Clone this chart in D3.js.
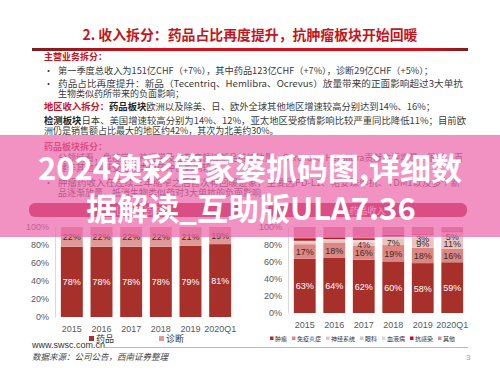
<!DOCTYPE html>
<html>
<head>
<meta charset="utf-8">
<script src="https://cdn.jsdelivr.net/npm/d3@7"></script>
<style>
  html, body { margin: 0; padding: 0; background: #fff; }
  svg { display: block; }
  .cn { font-family: "Noto Sans CJK SC", sans-serif; }
  .axis text { font-family: "Liberation Sans", Arial, sans-serif; font-size: 9px; fill: #595959; }
</style>
</head>
<body>
<svg id="chart" width="500" height="375"></svg>
<script>
// chart data
const years = ['2015', '2016', '2017', '2018', '2019', '2020Q1'];
const pharmaShare = [78, 78, 78, 78, 79, 81];
const diagShare = [22, 22, 22, 22, 21, 19];

const drugAreas = ['肿瘤', '免疫炎症', '神经系统', '眼科', '血液病', '抗感染', '其他'];
const oncology = [63, 64, 62, 60, 58, 59];
const immunology = [17, 18, 16, 19, 18, 16];
const neuroscience = [2, 2, 4, 7, 9, 11];
const ophthalmology = [1, 1, 1, 1, 3, 5];
const hematology = [1, 1, 2, 2, 3, 3];
const infectious = [3, 2, 2, 2, 1, 1];
const others = [13, 12, 13, 9, 8, 5];

const yTicks = [0, 20, 40, 60, 80, 100];

const svg = d3.select('#chart');

// --- slide heading ---
svg.append('text').attr('class', 'cn')
  .attr('x', 250).attr('y', 40).attr('text-anchor', 'middle')
  .attr('font-size', 14).attr('font-weight', 700).attr('fill', '#c3161c')
  .attr('textLength', 335).attr('lengthAdjust', 'spacingAndGlyphs')
  .text('2. 收入拆分：药品占比再度提升，抗肿瘤板块开始回暖');

const grad = svg.append('defs').append('linearGradient').attr('id', 'rule');
[[0, '#7e1d1d'], [0.26, '#d3111a'], [0.9, '#d3111a'], [1, '#7e1d1d']].forEach(s => {
  grad.append('stop').attr('offset', s[0]).attr('stop-color', s[1]);
});
svg.append('rect').attr('x', 32).attr('y', 48).attr('width', 436).attr('height', 3).attr('fill', 'url(#rule)');

// --- body text ---
const body = svg.append('g').attr('class', 'cn').attr('font-size', 9).attr('fill', '#3a3a3a');

function line(x, y, parts, width) {
  const t = body.append('text').attr('x', x).attr('y', y);
  if (width) t.attr('textLength', width).attr('lengthAdjust', 'spacingAndGlyphs');
  parts.forEach(p => {
    t.append('tspan').attr('fill', p.c || null).attr('font-weight', p.b ? 700 : null).text(p.t);
  });
}
function bullet(y) {
  body.append('text').attr('x', 44).attr('y', y).text('•');
}

line(44, 60, [{t: '主营业务拆分：', c: '#c3161c', b: true}]);
bullet(74);
line(58, 74, [{t: '第一季度总收入为151亿CHF（+7%），其中药品123亿CHF（+7%），诊断29亿CHF（+5%）；'}], 375);
bullet(87);
line(58, 87, [{t: '药品占比再度提升：新品（Tecentriq、Hemlibra、Ocrevus）放量带来的正面影响超过3大单抗'}], 405);
line(58, 97, [{t: '生物类似药所带来的负面影响；'}]);
line(44, 110, [{t: '地区收入拆分：', c: '#c3161c', b: true}, {t: '药品板块', c: '#222', b: true},
  {t: '欧洲以及除美、日、欧外全球其他地区增速较高分别达到14%、16%；'}], 391);
line(44, 124, [{t: '检测板块', c: '#222', b: true},
  {t: '日本、美国增速较高分别为14%、12%，亚太地区受疫情影响比较严重同比降低11%；目前欧'}], 422);
line(44, 134, [{t: '洲仍是销售额占比最大的地区约42%，其次为北美约30%。'}]);
line(44, 150, [{t: '药品板块拆分：', c: '#c3161c', b: true}]);
bullet(161);
line(58, 161, [{t: '分领域看，免疫学、神经学及血友病领域新品持续放量，Ocrevus、Hemlibra贡献主要增量；眼科、百'}], 405);
line(58, 171, [{t: '健等其他领域受生物类似药冲击影响较小。'}]);
bullet(186);
line(58, 186, [{t: '肿瘤药收入在连续三年缩窄之后首次有回暖迹象，主要因PD-L1、帕妥珠单抗、TDM1以及多个新'}], 402);
line(58, 196, [{t: '品逐渐放量，抵消生物类似药对3大单抗的负面影响。'}]);

// chart header bars
[{x: 29, w: 211, t: '集团收入结构'}, {x: 268, w: 199, t: '药品收入'}].forEach(h => {
  svg.append('rect').attr('x', h.x).attr('y', 203).attr('width', h.w).attr('height', 14)
    .attr('rx', 6).attr('fill', '#b5182e');
  svg.append('text').attr('class', 'cn').attr('x', h.x + h.w / 2).attr('y', 213.5)
    .attr('text-anchor', 'middle').attr('font-size', 9).attr('fill', '#fff').text(h.t);
});

// --- stacked bars ---
function drawStacked(rows, keys, colors, box, labelOk, labelColor) {
  const g = svg.append('g');
  const x = d3.scaleBand().domain(years).range([box.x0, box.x1]).paddingInner(0.26).paddingOuter(0.13);
  const y = d3.scaleLinear().domain([0, 100]).range([box.y0, box.y1]);

  const yAxis = g.append('g').attr('class', 'axis').attr('transform', `translate(${box.x0 - 2},0)`)
    .call(d3.axisLeft(y).tickValues(yTicks).tickFormat(d => d + '%').tickSizeInner(0).tickSizeOuter(0).tickPadding(6));
  yAxis.select('.domain').attr('stroke', '#d9d9d9');

  const xAxis = g.append('g').attr('class', 'axis').attr('transform', `translate(0,${box.y0})`)
    .call(d3.axisBottom(x).tickSize(0).tickPadding(9));
  xAxis.select('.domain').remove();

  const series = d3.stack().keys(keys)(rows);
  const layer = g.selectAll('g.layer').data(series).join('g').attr('class', 'layer')
    .attr('fill', (d, i) => colors[i]);
  layer.selectAll('rect').data(d => d).join('rect')
    .attr('x', d => x(d.data.year))
    .attr('width', x.bandwidth())
    .attr('y', d => y(d[1]))
    .attr('height', d => y(d[0]) - y(d[1]));

  series.forEach((s, i) => {
    s.forEach(d => {
      const v = d[1] - d[0];
      if (!labelOk(i, v)) return;
      g.append('text')
        .attr('x', x(d.data.year) + x.bandwidth() / 2)
        .attr('y', y((d[0] + d[1]) / 2) + 3.5)
        .attr('text-anchor', 'middle')
        .attr('font-family', '"Liberation Sans", Arial, sans-serif')
        .attr('font-size', 9)
        .attr('fill', labelColor(i))
        .text(v + '%');
    });
  });
}

const leftRows = years.map((yr, i) => ({year: yr, 药品: pharmaShare[i], 诊断: diagShare[i]}));
drawStacked(leftRows, ['药品', '诊断'], ['#a7302b', '#df9a97'],
  {x0: 57, x1: 235, y0: 317, y1: 227},
  () => true, i => i === 0 ? '#fff' : '#3b2a2a');

const drugValues = [oncology, immunology, neuroscience, ophthalmology, hematology, infectious, others];
const drugColors = ['#a7302b', '#dd8784', '#e9c3bf', '#d8c8c6', '#ecd3d3', '#c8101a', '#d78a9b'];
const rightRows = years.map((yr, i) => {
  const r = {year: yr};
  drugAreas.forEach((a, k) => { r[a] = drugValues[k][i]; });
  return r;
});
drawStacked(rightRows, drugAreas, drugColors,
  {x0: 290, x1: 467, y0: 313, y1: 227},
  (i, v) => i < 4 && v >= 3, i => i === 0 ? '#fff' : '#3b2a2a');

// legends
const legL = svg.append('g').attr('class', 'cn').attr('font-size', 9).attr('fill', '#333');
[['药品', '#a7302b', 89], ['诊断', '#df9a97', 159]].forEach(d => {
  legL.append('rect').attr('x', d[2]).attr('y', 336).attr('width', 5).attr('height', 5).attr('fill', d[1]);
  legL.append('text').attr('x', d[2] + 7).attr('y', 342).text(d[0]);
});

const legR = svg.append('g').attr('class', 'cn').attr('font-size', 6).attr('fill', '#333');
let lx = 270;
drugAreas.forEach((a, i) => {
  legR.append('rect').attr('x', lx).attr('y', 336.5).attr('width', 3.5).attr('height', 3.5).attr('fill', drugColors[i]);
  legR.append('text').attr('x', lx + 5).attr('y', 340.5).text(a);
  lx += 5 + a.length * 6 + 5;
});

// footer
svg.append('text').attr('x', 32).attr('y', 348)
  .attr('font-family', '"Liberation Sans", Arial, sans-serif').attr('font-size', 9).attr('fill', '#333')
  .text('www.swsc.com.cn');
svg.append('line').attr('x1', 104).attr('x2', 468).attr('y1', 347.5).attr('y2', 347.5)
  .attr('stroke', '#a6a6a6').attr('stroke-width', 0.8);
svg.append('text').attr('class', 'cn').attr('x', 32).attr('y', 360)
  .attr('font-size', 8.5).attr('font-style', 'italic').attr('fill', '#444')
  .text('数据来源：公司公告，西南证券整理');
svg.append('text').attr('x', 466).attr('y', 360)
  .attr('font-family', '"Liberation Sans", Arial, sans-serif').attr('font-size', 8).attr('fill', '#999')
  .text('3');

// pink banner over the page
svg.append('rect').attr('x', 0).attr('y', 135).attr('width', 500).attr('height', 102)
  .attr('fill', 'rgb(235,100,170)').attr('fill-opacity', 0.7);

const banner = svg.append('g').attr('class', 'cn').attr('font-size', 31).attr('font-weight', 700)
  .attr('fill', '#fff').attr('text-anchor', 'middle');
banner.append('text').attr('x', 250).attr('y', 180).text('2024澳彩管家婆抓码图,详细数');
banner.append('text').attr('x', 251).attr('y', 220).text('据解读_互助版ULA7.36');
</script>
</body>
</html>
